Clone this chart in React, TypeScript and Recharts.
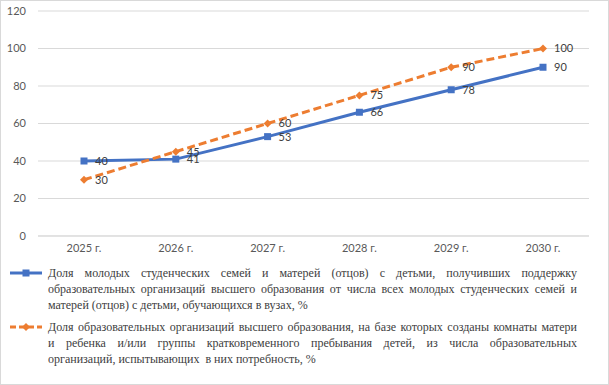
import { LineChart, Line, XAxis, YAxis, CartesianGrid, Legend, LabelList } from "recharts";

const years = ["2025 г.", "2026 г.", "2027 г.", "2028 г.", "2029 г.", "2030 г."];
const supportShare = [40, 41, 53, 66, 78, 90];
const roomsShare = [30, 45, 60, 75, 90, 100];
const yTicks = [0, 20, 40, 60, 80, 100, 120];

const supportLegend = [
  "Доля молодых студенческих семей и матерей (отцов) с детьми, получивших поддержку",
  "образовательных организаций высшего образования от числа всех молодых студенческих семей и",
  "матерей (отцов) с детьми, обучающихся в вузах, %",
];
const roomsLegend = [
  "Доля образовательных организаций высшего образования, на базе которых созданы комнаты матери",
  "и ребенка и/или группы кратковременного пребывания детей, из числа образовательных",
  "организаций, испытывающих  в них потребность, %",
];

const data = years.map((year, i) => ({ year, support: supportShare[i], rooms: roomsShare[i] }));

const BLUE = "#4472C4";
const ORANGE = "#ED7D31";
const tickFont = { fontFamily: "Lato", fontSize: 11, fill: "#595959" };

const Square = (props: any) => {
  const { cx, cy } = props;
  if (cx == null || cy == null) return null;
  return <rect key={`s-${cx}`} x={cx - 3.5} y={cy - 3.5} width={7} height={7} fill={BLUE} />;
};

const Diamond = (props: any) => {
  const { cx, cy } = props;
  if (cx == null || cy == null) return null;
  return (
    <polygon
      key={`d-${cx}`}
      points={`${cx},${cy - 4} ${cx + 4},${cy} ${cx},${cy + 4} ${cx - 4},${cy}`}
      fill={ORANGE}
    />
  );
};

function LegendEntry({ lines, dashed, color, top }: { lines: string[]; dashed: boolean; color: string; top: number }) {
  return (
    <div style={{ position: "relative", marginTop: top }}>
      <svg width={44} height={16} style={{ position: "absolute", left: 0, top: 0 }}>
        <line x1={10} y1={8} x2={42} y2={8} stroke={color} strokeWidth={3} strokeDasharray={dashed ? "6 3" : undefined} />
        {dashed ? (
          <polygon points="26,4 30,8 26,12 22,8" fill={color} />
        ) : (
          <rect x={22.5} y={4.5} width={7} height={7} fill={color} />
        )}
      </svg>
      <div style={{ marginLeft: 48, width: 529 }}>
        {lines.map((t, i) => (
          <div
            key={i}
            style={{
              textAlign: "justify",
              textAlignLast: i < lines.length - 1 ? "justify" : "left",
              whiteSpace: "pre",
            }}
          >
            {t}
          </div>
        ))}
      </div>
    </div>
  );
}

function LegendBox() {
  return (
    <div
      style={{
        fontFamily: "Times New Roman, Liberation Serif, serif",
        fontSize: 12,
        lineHeight: "16px",
        color: "#404040",
      }}
    >
      <LegendEntry lines={supportLegend} dashed={false} color={BLUE} top={0} />
      <LegendEntry lines={roomsLegend} dashed={true} color={ORANGE} top={6} />
    </div>
  );
}

export default function App() {
  return (
    <div style={{ position: "absolute", left: 0, top: 0, width: 609, height: 385, background: "#fff" }}>
      <LineChart width={609} height={385} data={data} margin={{ top: 11, right: 20, bottom: 119, left: 0 }}>
        <CartesianGrid vertical={false} stroke="#d9d9d9" />
        <XAxis
          dataKey="year"
          axisLine={{ stroke: "#d9d9d9" }}
          tickLine={false}
          tick={tickFont}
          height={30}
          padding={{ left: 46, right: 46 }}
        />
        <YAxis
          domain={[0, 120]}
          ticks={yTicks}
          width={38}
          axisLine={false}
          tickLine={false}
          tickSize={0}
          tickMargin={12}
          tick={tickFont}
        />
        <Legend
          layout="horizontal"
          verticalAlign="middle"
          align="center"
          wrapperStyle={{ top: 265, left: 0, width: 609 }}
          content={() => <LegendBox />}
        />
        <Line
          dataKey="support"
          stroke={BLUE}
          strokeWidth={3}
          dot={Square}
          activeDot={false}
          isAnimationActive={false}
        >
          <LabelList dataKey="support" position="right" offset={11} fill="#404040" fontFamily="Lato" fontSize={11} />
        </Line>
        <Line
          dataKey="rooms"
          stroke={ORANGE}
          strokeWidth={3}
          strokeDasharray="8 4"
          dot={Diamond}
          activeDot={false}
          isAnimationActive={false}
        >
          <LabelList dataKey="rooms" position="right" offset={11} fill="#404040" fontFamily="Lato" fontSize={11} />
        </Line>
      </LineChart>
      <div
        style={{
          position: "absolute",
          left: 0,
          top: 0,
          width: 609,
          height: 385,
          boxSizing: "border-box",
          border: "1px solid #d9d9d9",
          pointerEvents: "none",
        }}
      />
    </div>
  );
}
